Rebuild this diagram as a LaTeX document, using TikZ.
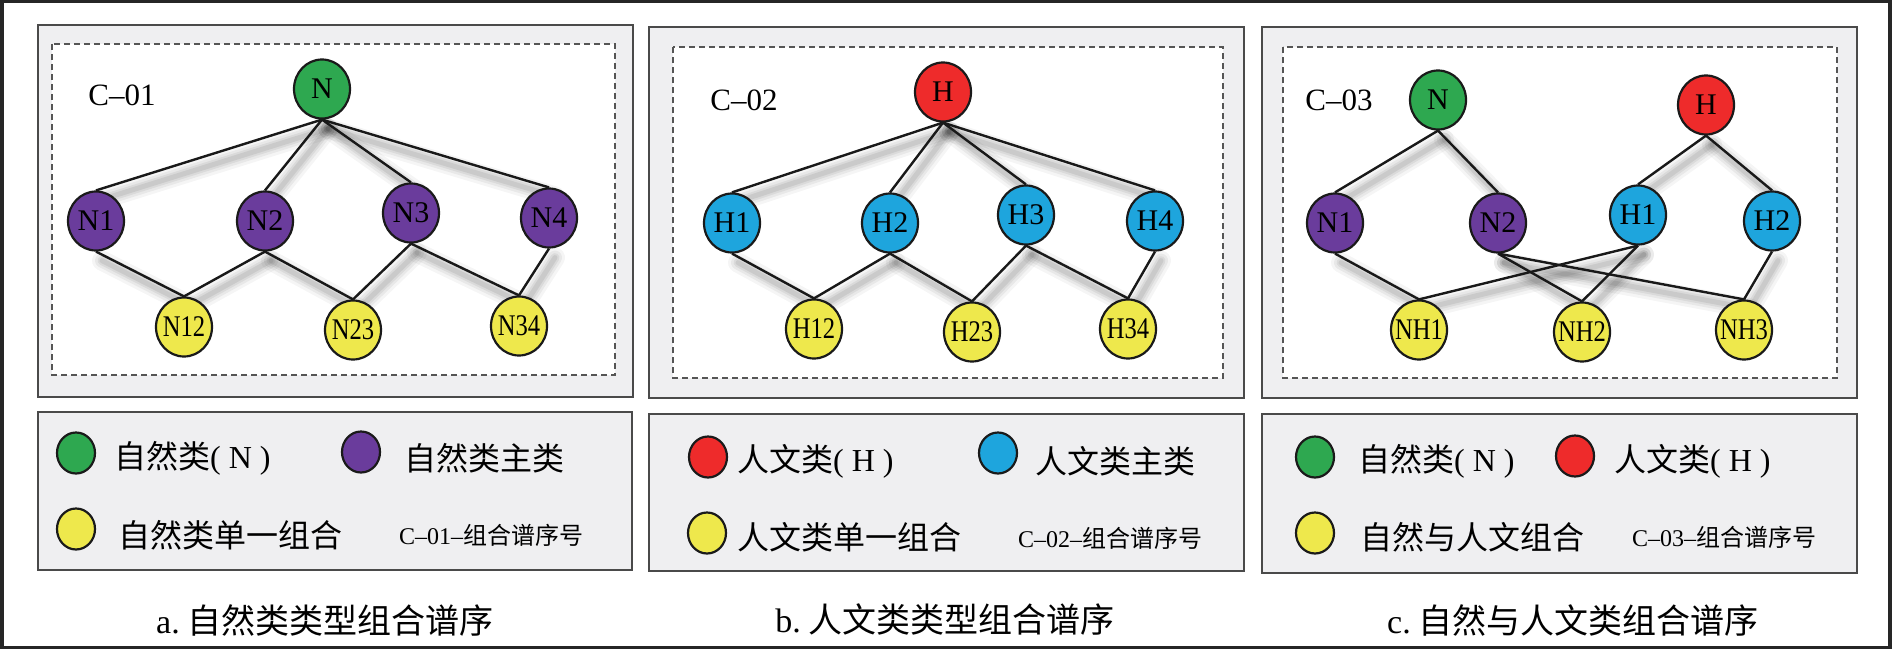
\documentclass[tikz,border=0pt]{standalone}
\usepackage{fontspec}
\setmainfont{Liberation Serif}
\newfontfamily\cjk{Noto Sans CJK SC}
\usepackage{graphicx}
\usetikzlibrary{shapes.geometric}
\pgfdeclarelayer{back}
\pgfdeclarelayer{shadow}
\pgfdeclarelayer{edges}
\pgfsetlayers{back,shadow,edges,main}
\definecolor{cgreen}{HTML}{2EA850}
\definecolor{cpurple}{HTML}{6A3C9C}
\definecolor{cred}{HTML}{EE2B2B}
\definecolor{cblue}{HTML}{1EA5DD}
\definecolor{cyellow}{HTML}{EEE84C}
\definecolor{boxfill}{HTML}{EFEFF1}
\definecolor{boxline}{HTML}{4A4A4A}
\definecolor{dashline}{HTML}{555555}
\definecolor{nodeline}{HTML}{1A1A1A}
\definecolor{outerline}{HTML}{262626}
\newcommand\nl[1]{\makebox[0pt]{#1}}
\newcommand\cnd[1]{\makebox[0pt]{\scalebox{0.82}[1]{#1}}}
\newcommand\sedge[2]{%
  \begin{pgfonlayer}{shadow}
    \foreach \w/\o in {20/0.04,14/0.05,9/0.06,5/0.07}{%
      \draw[line width=\w pt, black, opacity=\o, line cap=round, transform canvas={shift={(6,9)}}] (#1.south) -- (#2.north);}
  \end{pgfonlayer}
  \begin{pgfonlayer}{edges}
    \draw[edgeline] (#1.south) -- (#2.north);
  \end{pgfonlayer}}
\tikzset{
  panel/.style={draw=boxline, line width=2pt, fill=boxfill},
  dbox/.style={draw=dashline, line width=1.5pt, dash pattern=on 6pt off 4pt, fill=white},
  vnode/.style={ellipse, draw=nodeline, line width=2.2pt, minimum width=56pt, minimum height=59pt, inner sep=0pt, font=\fontsize{30}{31}\selectfont, text=black},
  lnode/.style={ellipse, draw=nodeline, line width=2.2pt, minimum width=38pt, minimum height=41pt, inner sep=0pt},
  ltext/.style={anchor=west, inner sep=0pt, font=\fontsize{32}{34}\selectfont},
  stext/.style={anchor=west, inner sep=0pt, font=\fontsize{24}{26}\selectfont},
  captext/.style={inner sep=0pt, font=\fontsize{34}{36}\selectfont},
  ctag/.style={inner sep=0pt, font=\fontsize{31}{32}\selectfont},
  edgeline/.style={draw=black!90, line width=2.4pt},
}
\begin{document}
\begin{tikzpicture}[x=1pt,y=-1pt]
\useasboundingbox (0,0) rectangle (1892,650);
\begin{pgfonlayer}{back}
  \fill[white] (0,0) rectangle (1892,650);
  \draw[line width=3.5pt, draw=outerline] (1.75,1.75) rectangle (1890,647.5);
  % panels
  \draw[panel] (38,25) rectangle (633,397);
  \draw[dbox] (52,44) rectangle (615,375);
  \draw[panel] (649,27) rectangle (1244,398);
  \draw[dbox] (673,47) rectangle (1223,378);
  \draw[panel] (1262,27) rectangle (1857,398);
  \draw[dbox] (1283,47) rectangle (1837,378);
  % legends
  \draw[panel] (38,412) rectangle (632,570);
  \draw[panel] (649,414) rectangle (1244,571);
  \draw[panel] (1262,414) rectangle (1857,573);
\end{pgfonlayer}

% ---------- panel a ----------
\node[ctag] (atag) at (122,95) {C–01};
\node[vnode, fill=cgreen] (aN) at (322,89) {\nl{N}};
\node[vnode, fill=cpurple] (aN1) at (96,221) {\nl{N1}};
\node[vnode, fill=cpurple] (aN2) at (265,221) {\nl{N2}};
\node[vnode, fill=cpurple] (aN3) at (411,213) {\nl{N3}};
\node[vnode, fill=cpurple] (aN4) at (549,218) {\nl{N4}};
\node[vnode, fill=cyellow] (aN12) at (184,327) {\cnd{N12}};
\node[vnode, fill=cyellow] (aN23) at (353,330) {\cnd{N23}};
\node[vnode, fill=cyellow] (aN34) at (519,326) {\cnd{N34}};
\sedge{aN}{aN1}\sedge{aN}{aN2}\sedge{aN}{aN3}\sedge{aN}{aN4}
\sedge{aN1}{aN12}\sedge{aN2}{aN12}\sedge{aN2}{aN23}
\sedge{aN3}{aN23}\sedge{aN3}{aN34}\sedge{aN4}{aN34}

% ---------- panel b ----------
\node[ctag] (btag) at (744,100) {C–02};
\node[vnode, fill=cred] (bH) at (943,92) {\nl{H}};
\node[vnode, fill=cblue] (bH1) at (732,223) {\nl{H1}};
\node[vnode, fill=cblue] (bH2) at (890,223) {\nl{H2}};
\node[vnode, fill=cblue] (bH3) at (1026,215) {\nl{H3}};
\node[vnode, fill=cblue] (bH4) at (1155,221) {\nl{H4}};
\node[vnode, fill=cyellow] (bH12) at (814,329) {\cnd{H12}};
\node[vnode, fill=cyellow] (bH23) at (972,332) {\cnd{H23}};
\node[vnode, fill=cyellow] (bH34) at (1128,329) {\cnd{H34}};
\sedge{bH}{bH1}\sedge{bH}{bH2}\sedge{bH}{bH3}\sedge{bH}{bH4}
\sedge{bH1}{bH12}\sedge{bH2}{bH12}\sedge{bH2}{bH23}
\sedge{bH3}{bH23}\sedge{bH3}{bH34}\sedge{bH4}{bH34}

% ---------- panel c ----------
\node[ctag] (ctagn) at (1339,100) {C–03};
\node[vnode, fill=cgreen] (cN) at (1438,100) {\nl{N}};
\node[vnode, fill=cred] (cH) at (1706,105) {\nl{H}};
\node[vnode, fill=cpurple] (cN1) at (1335,223) {\nl{N1}};
\node[vnode, fill=cpurple] (cN2) at (1498,223) {\nl{N2}};
\node[vnode, fill=cblue] (cH1) at (1638,215) {\nl{H1}};
\node[vnode, fill=cblue] (cH2) at (1772,221) {\nl{H2}};
\node[vnode, fill=cyellow] (cNH1) at (1419,330) {\cnd{NH1}};
\node[vnode, fill=cyellow] (cNH2) at (1582,332) {\cnd{NH2}};
\node[vnode, fill=cyellow] (cNH3) at (1744,330) {\cnd{NH3}};
\sedge{cN}{cN1}\sedge{cN}{cN2}\sedge{cH}{cH1}\sedge{cH}{cH2}
\sedge{cN1}{cNH1}\sedge{cH1}{cNH1}\sedge{cN2}{cNH2}
\sedge{cH1}{cNH2}\sedge{cN2}{cNH3}\sedge{cH2}{cNH3}

% ---------- legends ----------
\node[lnode, fill=cgreen] (la1) at (76,453) {};
\node[ltext] (la1t) at (114,458) {{\cjk 自然类}(\hspace{8pt}N\hspace{8pt})};
\node[lnode, fill=cpurple] (la2) at (361,452) {};
\node[ltext] (la2t) at (404,458) {\cjk 自然类主类};
\node[lnode, fill=cyellow] (la3) at (76,529) {};
\node[ltext] (la3t) at (118,535) {\cjk 自然类单一组合};
\node[stext] (la4t) at (399,535) {C–01–{\cjk 组合谱序号}};

\node[lnode, fill=cred] (lb1) at (708,457) {};
\node[ltext] (lb1t) at (737,461) {{\cjk 人文类}(\hspace{8pt}H\hspace{8pt})};
\node[lnode, fill=cblue] (lb2) at (998,453) {};
\node[ltext] (lb2t) at (1035,461) {\cjk 人文类主类};
\node[lnode, fill=cyellow] (lb3) at (707,533) {};
\node[ltext] (lb3t) at (737,537) {\cjk 人文类单一组合};
\node[stext] (lb4t) at (1018,538) {C–02–{\cjk 组合谱序号}};

\node[lnode, fill=cgreen] (lc1) at (1315,457) {};
\node[ltext] (lc1t) at (1358,461) {{\cjk 自然类}(\hspace{8pt}N\hspace{8pt})};
\node[lnode, fill=cred] (lc2) at (1575,456) {};
\node[ltext] (lc2t) at (1614,461) {{\cjk 人文类}(\hspace{8pt}H\hspace{8pt})};
\node[lnode, fill=cyellow] (lc3) at (1315,533) {};
\node[ltext] (lc3t) at (1360,537) {\cjk 自然与人文组合};
\node[stext] (lc4t) at (1632,537) {C–03–{\cjk 组合谱序号}};

% ---------- captions ----------
\node[captext] (capa) at (325,620) {a.\hspace{8pt}{\cjk 自然类类型组合谱序}};
\node[captext] (capb) at (945,620) {b.\hspace{8pt}{\cjk 人文类类型组合谱序}};
\node[captext] (capc) at (1573,620) {c.\hspace{8pt}{\cjk 自然与人文类组合谱序}};
\end{tikzpicture}
\end{document}
